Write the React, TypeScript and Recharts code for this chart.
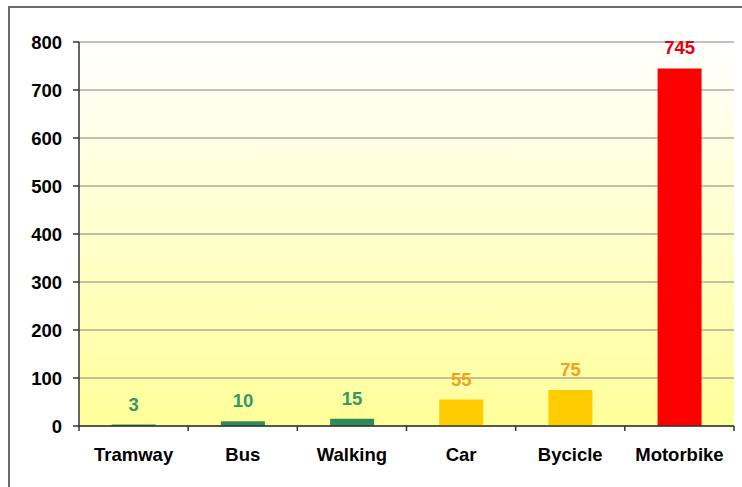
import React from 'react';
import {
  BarChart,
  Bar,
  XAxis,
  YAxis,
  CartesianGrid,
  Cell,
} from 'recharts';

const categories = ['Tramway', 'Bus', 'Walking', 'Car', 'Bycicle', 'Motorbike'];
const values = [3, 10, 15, 55, 75, 745];
const barColors = ['#2E8B57', '#2E8B57', '#2E8B57', '#FFCC00', '#FFCC00', '#FF0000'];
const labelColors = ['#339966', '#339966', '#339966', '#F2A11C', '#F2A11C', '#E8000B'];
const yTicks = [0, 100, 200, 300, 400, 500, 600, 700, 800];

const data = categories.map((name, i) => ({ name, value: values[i] }));

const FONT = "Arial, 'Liberation Sans', sans-serif";
const FS = 18.5;
const AXIS = '#333333';
const GRID = '#858578';

const ValueLabel = (props: any) => {
  const { x, y, width, value, index } = props;
  return (
    <text
      x={x + width / 2}
      y={y - 14}
      textAnchor="middle"
      fill={labelColors[index]}
      fontFamily={FONT}
      fontWeight="bold"
      fontSize={FS}
    >
      {value}
    </text>
  );
};

const CategoryTick = (props: any) => {
  const { x, y, payload, index } = props;
  const half = payload && typeof payload.offset === 'number' ? payload.offset : 0;
  const isLast = index === categories.length - 1;
  return (
    <g>
      <line x1={x - half} y1={y} x2={x - half} y2={y + 5} stroke={AXIS} strokeWidth={1.5} />
      {isLast && (
        <line x1={x + half} y1={y} x2={x + half} y2={y + 5} stroke={AXIS} strokeWidth={1.5} />
      )}
      <text
        x={x}
        y={y + 35}
        textAnchor="middle"
        fill="#000"
        fontFamily={FONT}
        fontWeight="bold"
        fontSize={FS}
      >
        {payload.value}
      </text>
    </g>
  );
};

export default function App() {
  return (
    <div style={{ position: 'absolute', left: 0, top: 0, width: 742, height: 487, overflow: 'hidden', background: '#fff' }}>
      <div
        style={{
          position: 'absolute',
          left: 8,
          top: 6,
          width: 734,
          height: 481,
          borderLeft: '2px solid #6a6a6a',
          borderTop: '2px solid #6a6a6a',
          boxSizing: 'border-box',
        }}
      />
      <div style={{ position: 'absolute', left: 0, top: 0 }}>
        <BarChart
          width={742}
          height={487}
          data={data}
          margin={{ top: 42, right: 8, bottom: 0, left: 0 }}
          barCategoryGap="30%"
        >
          <defs>
            <linearGradient id="plotBg" x1="0" y1="0" x2="0" y2="1">
              <stop offset="0%" stopColor="#FFFFFF" />
              <stop offset="100%" stopColor="#FFFF99" />
            </linearGradient>
          </defs>
          <CartesianGrid
            fill="url(#plotBg)"
            fillOpacity={1}
            vertical={false}
            stroke={GRID}
            strokeWidth={1}
          />
          <XAxis
            dataKey="name"
            type="category"
            height={61}
            tickSize={0}
            tickMargin={0}
            axisLine={{ stroke: AXIS, strokeWidth: 1.5 }}
            tickLine={false}
            interval={0}
            tick={<CategoryTick />}
          />
          <YAxis
            domain={[0, 800]}
            ticks={yTicks}
            width={79}
            tickSize={6}
            tickMargin={11}
            axisLine={{ stroke: AXIS, strokeWidth: 1.5 }}
            tickLine={{ stroke: AXIS, strokeWidth: 1.5 }}
            tick={{ fill: '#000', fontFamily: FONT, fontWeight: 'bold', fontSize: FS }}
          />
          <YAxis
            yAxisId="right"
            orientation="right"
            domain={[0, 800]}
            width={0}
            tick={false}
            tickLine={false}
            axisLine={{ stroke: GRID, strokeWidth: 1 }}
          />
          <Bar dataKey="value" isAnimationActive={false} label={<ValueLabel />}>
            {data.map((d, i) => (
              <Cell key={d.name} fill={barColors[i]} />
            ))}
          </Bar>
        </BarChart>
      </div>
    </div>
  );
}
